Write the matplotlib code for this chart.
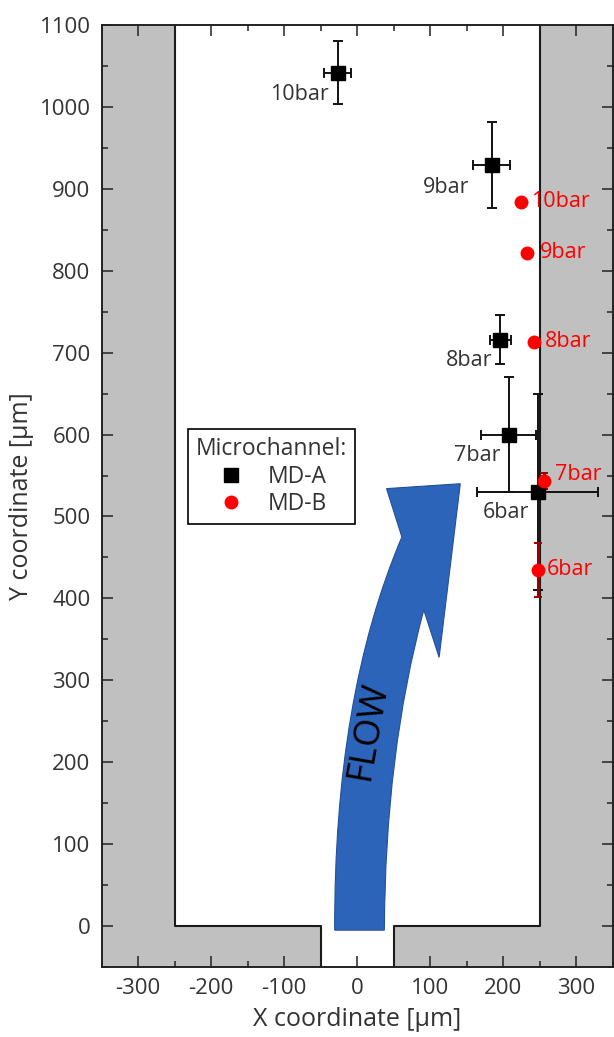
import matplotlib.pyplot as plt
from matplotlib.patches import Rectangle, PathPatch
from matplotlib.path import Path
from matplotlib.ticker import MultipleLocator

plt.rcParams['font.family'] = ['Open Sans', 'DejaVu Sans']
plt.rcParams['axes.unicode_minus'] = False

# data
pressures = ['6bar', '7bar', '8bar', '9bar', '10bar']
mda_x = [247, 207, 196, 184, -27]
mda_y = [530, 600, 716, 929, 1042]
mda_xerr = [83, 37, 15, 25, 19]
mda_yerr = [120, 70, 30, 53, 39]
mdb_x = [248, 256, 242, 233, 224]
mdb_y = [435, 543, 713, 822, 884]
mdb_yerr = [33, 10, 0, 0, 0]

# channel geometry (um)
channel_half = 250
inlet_half = 50
xlim = (-350, 350)
ylim = (-50, 1100)

# label offsets in points
a_dx = [-6, -6, -6, -16, -6]
a_dy = [-15, -15, -15, -16, -16]
b_dx = [6, 8, 8, 9, 7]
b_dy = [0, 5, 0, 0, 0]

fig = plt.figure(figsize=(6.14, 10.37), dpi=100)
ax = fig.add_axes([0.1656, 0.0675, 0.8327, 0.9084])

grey = '#c0c0c0'
# walls
ax.add_patch(Rectangle((xlim[0], ylim[0]), -xlim[0] - channel_half, ylim[1] - ylim[0], fc=grey, ec='none', zorder=0))
ax.add_patch(Rectangle((channel_half, ylim[0]), xlim[1] - channel_half, ylim[1] - ylim[0], fc=grey, ec='none', zorder=0))
ax.add_patch(Rectangle((-channel_half, ylim[0]), channel_half - inlet_half, -ylim[0], fc=grey, ec='none', zorder=0))
ax.add_patch(Rectangle((inlet_half, ylim[0]), channel_half - inlet_half, -ylim[0], fc=grey, ec='none', zorder=0))
ax.plot([-channel_half, -channel_half, -inlet_half, -inlet_half],
        [ylim[1], 0, 0, ylim[0]], color='#1a1a1a', lw=1.5, zorder=1)
ax.plot([channel_half, channel_half, inlet_half, inlet_half],
        [ylim[1], 0, 0, ylim[0]], color='#1a1a1a', lw=1.5, zorder=1)

# flow arrow
verts = [(-31, -5), (-32, 280), (61, 475), (40, 534), (141, 540), (112, 328),
         (91, 386), (38, 210), (37, -5), (-31, -5)]
codes = [Path.MOVETO, Path.CURVE3, Path.CURVE3, Path.LINETO, Path.LINETO, Path.LINETO,
         Path.LINETO, Path.CURVE3, Path.CURVE3, Path.CLOSEPOLY]
ax.add_patch(PathPatch(Path(verts, codes), fc='#2b64b9', ec='#24509a', lw=0.8, zorder=2))
ax.text(15, 238, 'FLOW', rotation=80, fontsize=26,
        ha='center', va='center', color='black', zorder=3)

# MD-A
ax.errorbar(mda_x, mda_y, xerr=mda_xerr, yerr=mda_yerr, fmt='none',
            ecolor='#111111', elinewidth=1.4, capsize=3.5, capthick=1.4, zorder=4)
ax.plot(mda_x, mda_y, 's', color='black', ms=10, label='MD-A', zorder=5)
# MD-B
ax.errorbar(mdb_x, mdb_y, yerr=mdb_yerr, fmt='none',
            ecolor='#9b0000', elinewidth=2.2, capsize=3, capthick=1.4, zorder=4)
ax.plot(mdb_x, mdb_y, 'o', color='#ff0000', ms=9, label='MD-B', zorder=5)

for i, p in enumerate(pressures):
    ax.annotate(p, (mda_x[i], mda_y[i]), xytext=(a_dx[i], a_dy[i]), textcoords='offset points',
                ha='right', va='center', fontsize=15.5, color='#333333', zorder=6)
    ax.annotate(p, (mdb_x[i], mdb_y[i]), xytext=(b_dx[i], b_dy[i]), textcoords='offset points',
                ha='left', va='center', fontsize=15.5, color='#ff0000', zorder=6)

ax.set_xlim(*xlim)
ax.set_ylim(*ylim)
ax.xaxis.set_major_locator(MultipleLocator(100))
ax.xaxis.set_minor_locator(MultipleLocator(50))
ax.yaxis.set_major_locator(MultipleLocator(100))
ax.yaxis.set_minor_locator(MultipleLocator(50))
ax.tick_params(which='both', direction='in', top=True, right=True, width=1.1, colors='#222222',
               labelcolor='#333333', labelsize=16)
ax.tick_params(which='major', length=8, pad=8)
ax.tick_params(which='minor', length=4.5)
ax.set_xticks([-300, -200, -100, 0, 100, 200, 300])
for s in ax.spines.values():
    s.set_linewidth(1.4)
    s.set_color('#222222')

ax.set_xlabel('X coordinate [µm]', fontsize=18, color='#333333', labelpad=6)
ax.set_ylabel('Y coordinate [µm]', fontsize=18, color='#333333', labelpad=4)

leg = ax.legend(title='Microchannel:', loc='upper left', bbox_to_anchor=(0.169, 0.571),
                borderaxespad=0, fancybox=False, edgecolor='black', framealpha=1,
                fontsize=16.5, title_fontsize=16.5, handletextpad=1.0, borderpad=0.35,
                labelspacing=0.15, handlelength=1.2)
leg.get_frame().set_linewidth(1.2)
for t in leg.get_texts():
    t.set_color('#333333')
leg.get_title().set_color('#333333')

fig.savefig('out.png', dpi=100)
